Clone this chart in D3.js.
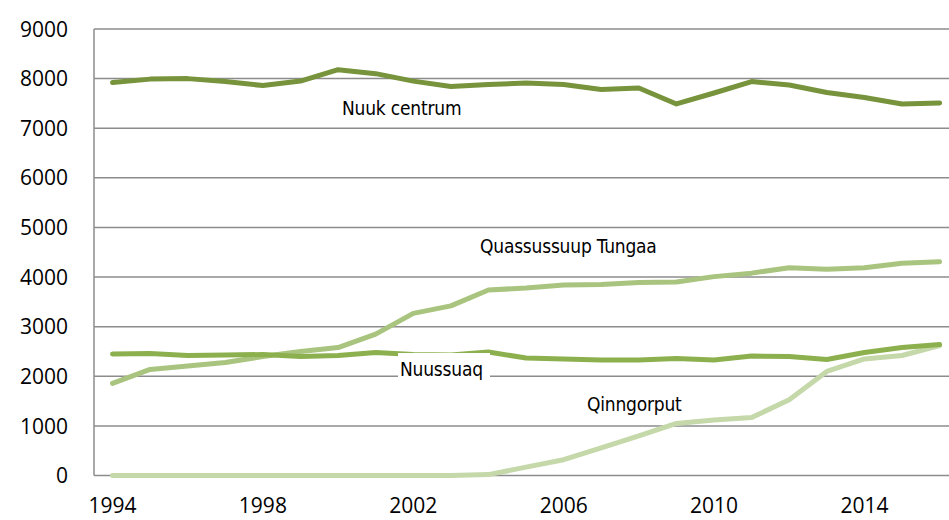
<!DOCTYPE html>
<html><head><meta charset="utf-8">
<script src="https://cdn.jsdelivr.net/npm/d3@7"></script>
<style>body{margin:0;background:#fff}svg{display:block}</style>
</head><body>
<svg id="c" width="949" height="520"></svg>
<script>
const years = d3.range(1994, 2017);
const nuukCentrum = [7920,7990,8000,7940,7860,7950,8180,8100,7950,7840,7880,7910,7880,7780,7810,7490,7710,7940,7870,7720,7620,7490,7510];
const quassussuup = [1860,2140,2210,2280,2400,2500,2580,2850,3270,3420,3740,3780,3840,3850,3890,3900,4010,4080,4190,4160,4190,4280,4310];
const nuussuaq = [2450,2460,2420,2430,2440,2400,2420,2480,2440,2430,2490,2370,2350,2330,2330,2360,2330,2410,2400,2340,2480,2580,2640];
const qinngorput = [0,0,0,0,0,0,0,0,0,0,20,170,320,560,800,1050,1120,1170,1530,2100,2350,2420,2620];
const yTicks = [0,1000,2000,3000,4000,5000,6000,7000,8000,9000];
const xTickYears = [1994,1998,2002,2006,2010,2014];

const series = [
  {name:"Qinngorput", values:qinngorput, color:"#c5d8a9"},
  {name:"Quassussuup Tungaa", values:quassussuup, color:"#a9c47f"},
  {name:"Nuussuaq", values:nuussuaq, color:"#8db04f"},
  {name:"Nuuk centrum", values:nuukCentrum, color:"#77933c"}
];

const svg = d3.select("#c");
const plotLeft = 94, plotRight = 949, plotTop = 29, plotBottom = 475.6;
const x = d3.scaleLinear().domain([1994, 2016]).range([112.5, 939.6]);
const y = d3.scaleLinear().domain([0, 9000]).range([plotBottom, plotTop]);

const labelFont = "'DejaVu Sans Condensed','Liberation Sans Narrow',sans-serif";
const tickFont = "'Open Sans','Liberation Sans',sans-serif";

// gridlines
svg.append("g").selectAll("line").data(yTicks).join("line")
  .attr("x1", plotLeft).attr("x2", plotRight)
  .attr("y1", d => y(d)).attr("y2", d => y(d))
  .attr("stroke", "#8c8c8c").attr("stroke-width", 1.5);
// left axis line
svg.append("line").attr("x1", plotLeft).attr("x2", plotLeft).attr("y1", plotTop).attr("y2", plotBottom)
  .attr("stroke", "#8c8c8c").attr("stroke-width", 1.5);

// y tick labels
svg.append("g").selectAll("text").data(yTicks).join("text")
  .attr("x", 68).attr("y", d => y(d)).attr("dy", "0.36em")
  .attr("text-anchor", "end").attr("font-family", tickFont).attr("font-size", 21)
  .attr("fill", "#000").text(d => d);
// x tick labels
svg.append("g").selectAll("text").data(xTickYears).join("text")
  .attr("x", d => x(d)).attr("y", 513)
  .attr("text-anchor", "middle").attr("font-family", tickFont).attr("font-size", 21)
  .attr("fill", "#000").text(d => d);

const line = d3.line().x((d, i) => x(years[i])).y(d => y(d));
svg.append("g").selectAll("path").data(series).join("path")
  .attr("d", d => line(d.values)).attr("fill", "none")
  .attr("stroke", d => d.color).attr("stroke-width", 5)
  .attr("stroke-linecap", "round").attr("stroke-linejoin", "round");

// labels
const labels = [
  {text:"Nuuk centrum", x:342, y:115},
  {text:"Quassussuup Tungaa", x:480, y:253},
  {text:"Qinngorput", x:587, y:411}
];
svg.append("rect").attr("x", 398).attr("y", 353).attr("width", 92).attr("height", 26).attr("fill", "#fff");
labels.push({text:"Nuussuaq", x:400, y:376});
svg.append("g").selectAll("text").data(labels).join("text")
  .attr("x", d => d.x).attr("y", d => d.y)
  .attr("font-family", labelFont).attr("font-size", 19).attr("letter-spacing", -0.2).attr("fill", "#000")
  .text(d => d.text);
</script>
</body></html>
